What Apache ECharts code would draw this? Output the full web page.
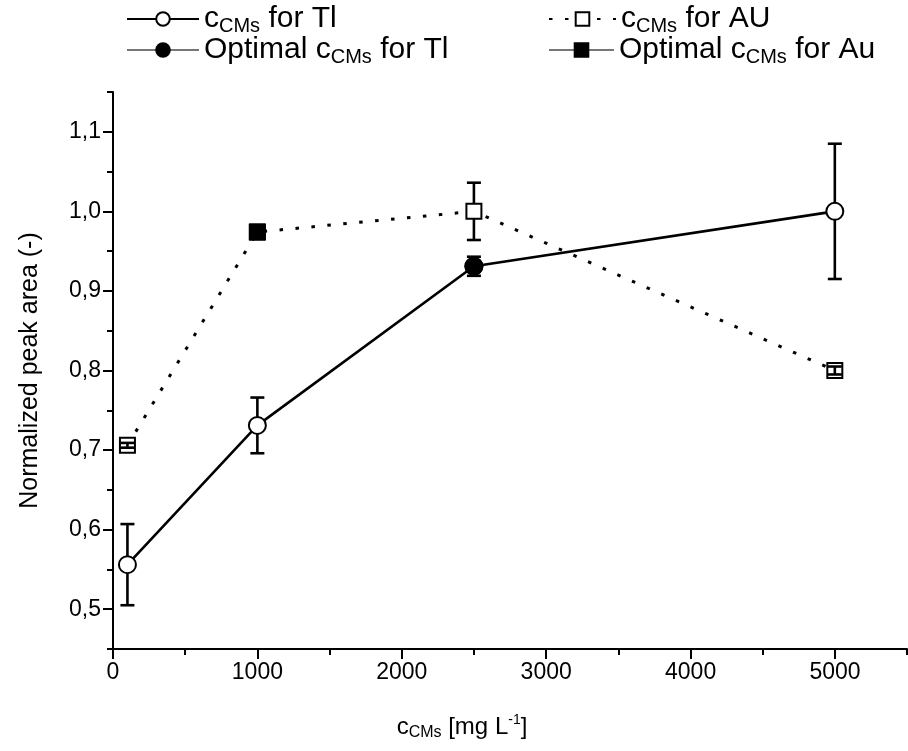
<!DOCTYPE html>
<html>
<head>
<meta charset="utf-8">
<script src="https://cdn.jsdelivr.net/npm/echarts@6/dist/echarts.min.js"></script>
<style>
html,body{margin:0;padding:0;background:#fff;}
#chart{width:908px;height:751px;}
</style>
</head>
<body>
<div id="chart"></div>
<script>
// ---- data ----
const concentrations = [100, 1000, 2500, 5000];
const tlValues = [0.556, 0.731, 0.931, 1.000];
const tlErrors = [0.051, 0.035, 0.012, 0.085];
const auValues = [0.706, 0.974, 1.000, 0.800];
const auErrors = [0.003, 0.000, 0.036, 0.005];
const tlOptimalIndex = 2;
const auOptimalIndex = 1;
const seriesNames = ['c_CMs for Tl', 'c_CMs for AU', 'Optimal c_CMs for Tl', 'Optimal c_CMs for Au'];
const legendLabels = {
  'c_CMs for Tl': '{a|c}{s|CMs}{a| for Tl}',
  'c_CMs for AU': '{a|c}{s|CMs}{a| for AU}',
  'Optimal c_CMs for Tl': '{a|Optimal c}{s|CMs}{a| for Tl}',
  'Optimal c_CMs for Au': '{a|Optimal c}{s|CMs}{a| for Au}'
};
const xTitle = '{a|c}{s|CMs}{a| [mg L}{p|-1}{a|]}';
const yTitle = 'Normalized peak area (-)';

// ---- styles ----
const FONT = '"Liberation Sans", Arial, sans-serif';
const legendRich = {
  a: {fontSize: 30, fontFamily: FONT, color: '#000', lineHeight: 34, verticalAlign: 'middle'},
  s: {fontSize: 20, fontFamily: FONT, color: '#000', lineHeight: 20, verticalAlign: 'bottom'}
};
const titleRich = {
  a: {fontSize: 24, fontFamily: FONT, color: '#000', lineHeight: 28, verticalAlign: 'middle'},
  s: {fontSize: 16, fontFamily: FONT, color: '#000', lineHeight: 16, verticalAlign: 'bottom'},
  p: {fontSize: 14, fontFamily: FONT, color: '#000', lineHeight: 14, verticalAlign: 'top'}
};

const tlData = concentrations.map((x, i) => [x, tlValues[i]]);
const auData = concentrations.map((x, i) => [x, auValues[i]]);
const tlErrData = concentrations.map((x, i) => [x, tlValues[i], tlErrors[i]]);
const auErrData = concentrations.map((x, i) => [x, auValues[i], auErrors[i]]).filter(d => d[2] > 0);

function errRender(halfSym) {
  return function (params, api) {
    const x = api.value(0), y = api.value(1), e = api.value(2);
    const c = api.coord([x, y]);
    const t = api.coord([x, y + e]);
    const b = api.coord([x, y - e]);
    const st = {stroke: '#000', lineWidth: 2.6};
    const cap = 7;
    const ch = [
      {type: 'line', shape: {x1: t[0] - cap, y1: t[1], x2: t[0] + cap, y2: t[1]}, style: st},
      {type: 'line', shape: {x1: b[0] - cap, y1: b[1], x2: b[0] + cap, y2: b[1]}, style: st}
    ];
    if (c[1] - t[1] > halfSym) {
      ch.push({type: 'line', shape: {x1: t[0], y1: t[1], x2: c[0], y2: c[1] - halfSym}, style: st});
      ch.push({type: 'line', shape: {x1: b[0], y1: c[1] + halfSym, x2: b[0], y2: b[1]}, style: st});
    } else {
      ch.push({type: 'line', shape: {x1: t[0], y1: t[1], x2: b[0], y2: b[1]}, style: st});
    }
    return {type: 'group', children: ch};
  };
}

function legendAt(name, left, top, width) {
  return {
    data: [name], left: left, top: top, orient: 'horizontal',
    itemWidth: width, itemHeight: 17, padding: 0,
    formatter: n => legendLabels[n],
    textStyle: {rich: legendRich, fontFamily: FONT, fontSize: 30, color: '#000', lineHeight: 44},
    selectedMode: false
  };
}

const axisLineStyle = {color: '#000', width: 2};

const option = {
  animation: false,
  backgroundColor: '#fff',
  legend: [
    legendAt(seriesNames[0], 126, 2, 72),
    legendAt(seriesNames[1], 548, 2, 67),
    legendAt(seriesNames[2], 126, 33, 72),
    legendAt(seriesNames[3], 548, 33, 65)
  ],
  grid: [
    {left: 113, right: 1, top: 92, bottom: 102},
    {left: 113, right: 73, top: 92, bottom: 102},
    {left: 113, right: 1, top: 131.8, bottom: 141.8}
  ],
  xAxis: [
    {type: 'value', gridIndex: 0, min: 0, max: 5500, interval: 500,
     axisLine: {lineStyle: axisLineStyle}, axisTick: {length: 6, lineStyle: {color: '#000', width: 2}},
     axisLabel: {show: false}, splitLine: {show: false}},
    {type: 'value', gridIndex: 1, min: 0, max: 5000, interval: 1000,
     axisLine: {show: false}, axisTick: {length: 10, lineStyle: {color: '#000', width: 2}},
     axisLabel: {margin: 12, fontSize: 23, fontFamily: FONT, color: '#000', formatter: v => String(v)},
     splitLine: {show: false},
     name: xTitle, nameLocation: 'middle', nameGap: 64,
     nameTextStyle: {rich: titleRich, lineHeight: 38, padding: [0, 24, 0, 0]}},
    {type: 'value', gridIndex: 2, min: 0, max: 5500, show: false}
  ],
  yAxis: [
    {type: 'value', gridIndex: 0, min: 0.45, max: 1.15, interval: 0.05,
     axisLine: {lineStyle: axisLineStyle}, axisTick: {length: 6, lineStyle: {color: '#000', width: 2}},
     axisLabel: {show: false}, splitLine: {show: false}},
    {type: 'value', gridIndex: 1, min: 0.45, max: 1.15, show: false},
    {type: 'value', gridIndex: 2, min: 0.5, max: 1.1, interval: 0.1,
     axisLine: {show: false}, axisTick: {length: 10, lineStyle: {color: '#000', width: 2}},
     axisLabel: {margin: 12, fontSize: 23, fontFamily: FONT, color: '#000',
                 formatter: v => v.toFixed(1).replace('.', ',')},
     splitLine: {show: false},
     name: yTitle, nameLocation: 'middle', nameGap: 70, nameRotate: 90,
     nameTextStyle: {fontSize: 25, fontFamily: FONT, color: '#000'}}
  ],
  series: [
    {name: 'tlErr', type: 'custom', xAxisIndex: 0, yAxisIndex: 0, z: 5,
     renderItem: errRender(8.5), data: tlErrData, silent: true},
    {name: 'auErr', type: 'custom', xAxisIndex: 0, yAxisIndex: 0, z: 5,
     renderItem: errRender(7.5), data: auErrData, silent: true},
    {name: seriesNames[0], type: 'line', xAxisIndex: 0, yAxisIndex: 0, z: 3,
     data: tlData, symbol: 'circle', symbolSize: 17, showAllSymbol: true,
     itemStyle: {color: '#fff', borderColor: '#000', borderWidth: 2},
     lineStyle: {color: '#000', width: 2.6}},
    {name: seriesNames[1], type: 'line', xAxisIndex: 0, yAxisIndex: 0, z: 3,
     data: auData, symbol: 'rect', symbolSize: 15, showAllSymbol: true,
     itemStyle: {color: '#fff', borderColor: '#000', borderWidth: 2},
     lineStyle: {color: '#000', width: 3, type: [3.5, 12.5]}},
    {name: seriesNames[2], type: 'line', xAxisIndex: 0, yAxisIndex: 0, z: 4,
     data: [tlData[tlOptimalIndex]], symbol: 'circle', symbolSize: 18,
     itemStyle: {color: '#000', borderColor: '#000', borderWidth: 1},
     lineStyle: {color: '#777', width: 1.5}},
    {name: seriesNames[3], type: 'line', xAxisIndex: 0, yAxisIndex: 0, z: 4,
     data: [auData[auOptimalIndex]], symbol: 'rect', symbolSize: 16,
     itemStyle: {color: '#000', borderColor: '#000', borderWidth: 1},
     lineStyle: {color: '#777', width: 1.5}}
  ]
};

const chart = echarts.init(document.getElementById('chart'), null, {renderer: 'canvas'});
chart.setOption(option);
</script>
</body>
</html>
